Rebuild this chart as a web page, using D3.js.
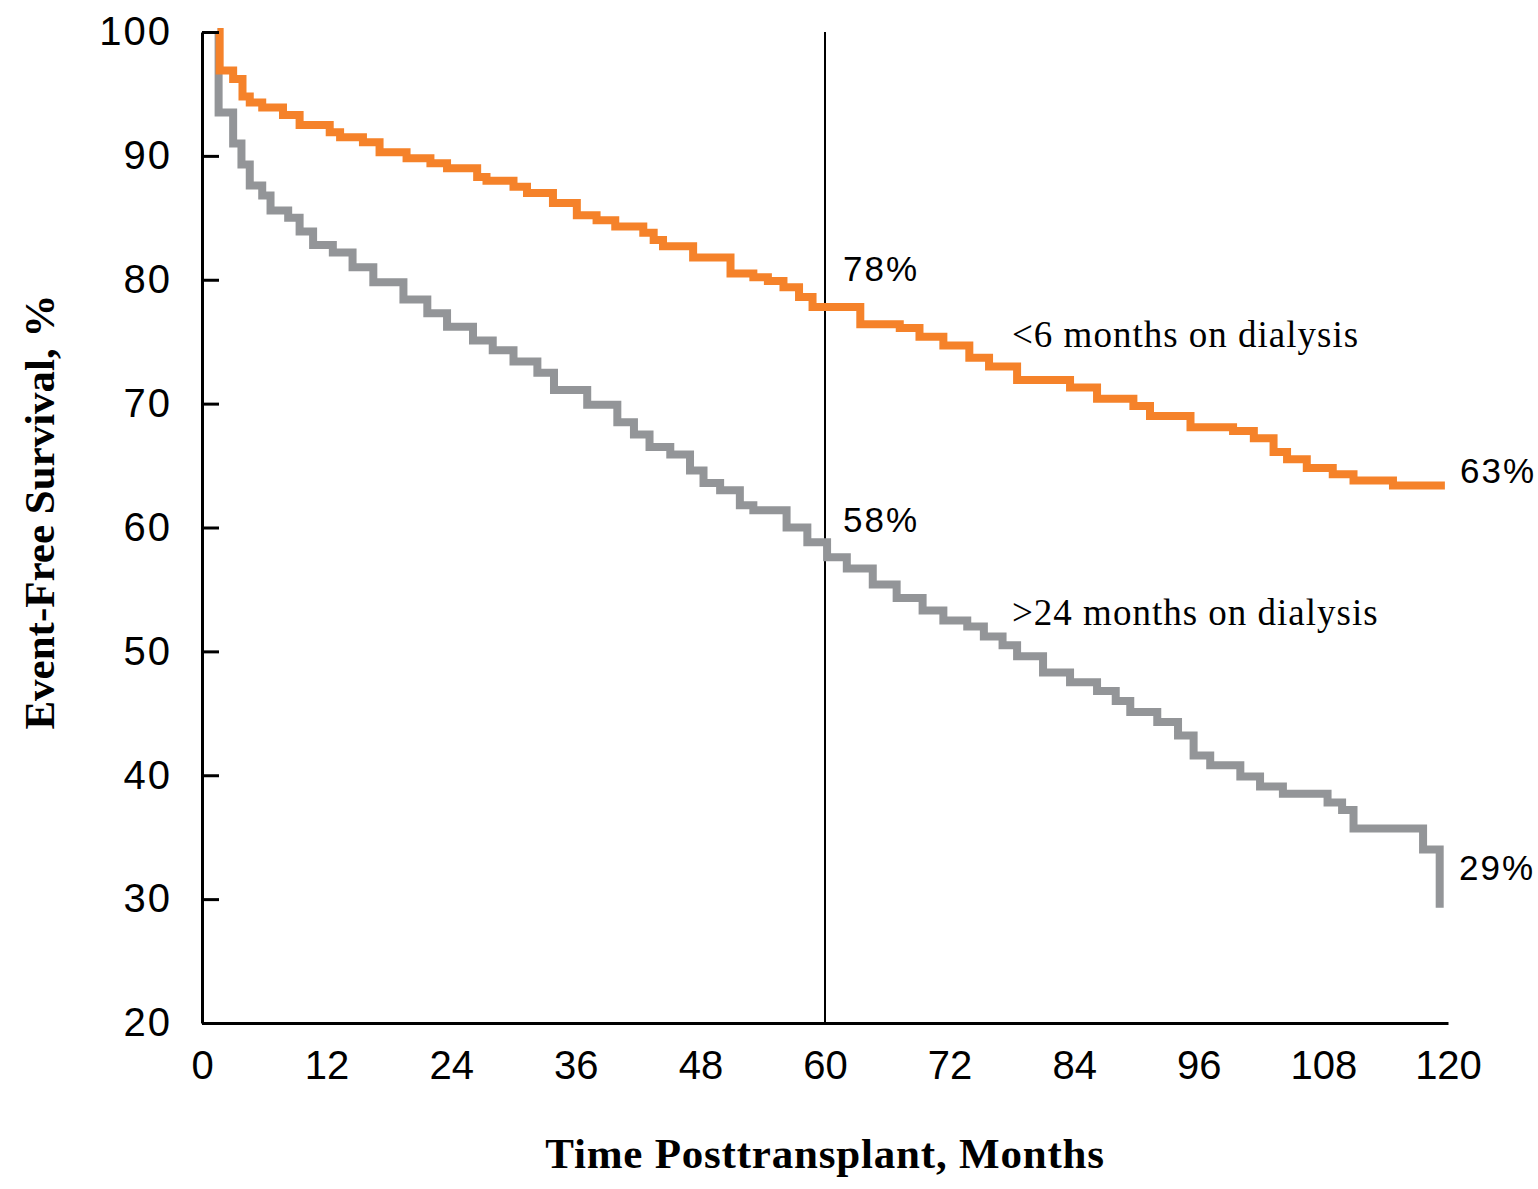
<!DOCTYPE html>
<html>
<head>
<meta charset="utf-8">
<script src="https://cdn.jsdelivr.net/npm/d3@7"></script>
<style>
    body { margin: 0; background: #fff; }
    svg.main { display: block; }
    .tick text { font-family: "Liberation Sans", Arial, sans-serif; font-size: 40px; fill: #000; }
    .title { font-family: "Liberation Serif", "Times New Roman", serif; font-weight: bold; font-size: 43px; fill: #000; }
    .note { font-family: "Liberation Serif", "Times New Roman", serif; font-size: 37px; fill: #000; }
    .pct { font-family: "Liberation Sans", Arial, sans-serif; font-size: 35px; fill: #000; }
</style>
</head>
<body>
<script>
// months posttransplant where the step starts, and event-free survival (%)
var shortTimes = [1.5, 1.7, 3.0, 3.9, 4.6, 5.8, 7.8, 9.4, 12.3, 13.3, 15.5, 17.1, 19.7, 22.0, 23.6,
    26.5, 27.4, 30.0, 31.3, 33.8, 36.1, 38.0, 39.8, 42.5, 43.5, 44.4, 47.3, 50.9, 53.1, 54.5,
    56.0, 57.5, 58.8, 63.4, 67.2, 69.1, 71.4, 73.9, 75.8, 78.5, 83.6, 86.2, 89.7, 91.3, 95.2,
    99.3, 101.3, 103.2, 104.5, 106.4, 108.9, 110.9, 114.7, 119.7];
var shortSurv = [100, 96.9, 96.2, 94.8, 94.3, 93.9, 93.3, 92.5, 91.9, 91.5, 91.1, 90.3, 89.8, 89.4, 89.0,
    88.3, 88.0, 87.5, 87.0, 86.2, 85.2, 84.8, 84.3, 83.8, 83.2, 82.7, 81.8, 80.5, 80.2, 79.9,
    79.4, 78.6, 77.8, 76.4, 76.1, 75.4, 74.7, 73.7, 73.0, 71.9, 71.3, 70.4, 69.8, 69.0, 68.1,
    67.8, 67.2, 66.1, 65.5, 64.8, 64.3, 63.8, 63.4, 63.4];

var longTimes = [1.5, 1.6, 3.0, 3.8, 4.6, 5.8, 6.6, 8.3, 9.4, 10.7, 12.6, 14.5, 16.5, 19.4, 21.7,
    23.6, 26.1, 28.0, 30.0, 32.3, 33.9, 37.1, 40.0, 41.6, 43.1, 45.1, 47.0, 48.3, 49.9, 51.8,
    53.1, 56.3, 58.3, 60.2, 62.1, 64.6, 66.9, 69.4, 71.4, 73.7, 75.3, 77.1, 78.5, 81.0, 83.6,
    86.2, 88.0, 89.4, 92.0, 94.0, 95.5, 97.1, 100.0, 101.9, 104.1, 108.4, 109.8, 110.9, 117.6, 119.2];
var longSurv = [100, 93.5, 91.0, 89.3, 87.6, 86.8, 85.6, 85.0, 83.9, 82.8, 82.2, 81.0, 79.8, 78.4, 77.3,
    76.2, 75.1, 74.3, 73.4, 72.5, 71.1, 69.9, 68.5, 67.5, 66.5, 65.9, 64.6, 63.6, 63.0, 61.8,
    61.4, 60.0, 58.8, 57.6, 56.7, 55.4, 54.3, 53.3, 52.5, 52.0, 51.2, 50.5, 49.6, 48.3, 47.5,
    46.8, 46.0, 45.1, 44.3, 43.2, 41.6, 40.8, 39.9, 39.1, 38.5, 37.8, 37.2, 35.7, 34.0, 29.3];

var xTicks = [0, 12, 24, 36, 48, 60, 72, 84, 96, 108, 120];
var yTicks = [20, 30, 40, 50, 60, 70, 80, 90, 100];
var markTime = 60;

var seriesNames = ["<6 months on dialysis", ">24 months on dialysis"];
var markLabels = ["78%", "58%"];
var endLabels = ["63%", "29%"];

var w = 1538, h = 1189;

var svg = d3.select("body").append("svg")
    .attr("class", "main")
    .attr("width", w)
    .attr("height", h);

var x = d3.scaleLinear().domain([0, 120]).range([202, 1448]);
var y = d3.scaleLinear().domain([20, 100]).range([1023, 32]);

function pts(ts, vs) {
    return ts.map(function (t, i) { return [t, vs[i]]; });
}

var line = d3.line()
    .x(function (d) { return x(d[0]); })
    .y(function (d) { return y(d[1]); })
    .curve(d3.curveStepAfter);

// 60-month reference line
svg.append("line")
    .attr("x1", x(markTime)).attr("x2", x(markTime))
    .attr("y1", y(100)).attr("y2", y(20))
    .attr("stroke", "#000")
    .attr("stroke-width", 2);

// gray underneath, orange on top
svg.append("path")
    .datum(pts(longTimes, longSurv))
    .attr("d", line)
    .attr("fill", "none")
    .attr("stroke", "#939598")
    .attr("stroke-width", 8);

svg.append("path")
    .datum(pts(shortTimes, shortSurv))
    .attr("d", line)
    .attr("fill", "none")
    .attr("stroke", "#F5822A")
    .attr("stroke-width", 8);

// axes
var yAxis = svg.append("g")
    .attr("transform", "translate(" + x(0) + ",0)")
    .call(d3.axisLeft(y).tickValues(yTicks).tickSizeInner(-17).tickSizeOuter(0).tickPadding(32));

var xAxis = svg.append("g")
    .attr("transform", "translate(0," + y(20) + ")")
    .call(d3.axisBottom(x).tickValues(xTicks).tickSize(0).tickPadding(28));

[yAxis, xAxis].forEach(function (g) {
    g.select(".domain").attr("stroke", "#000").attr("stroke-width", 3);
    g.selectAll(".tick line").attr("stroke", "#000").attr("stroke-width", 3);
    g.attr("font-family", null).attr("font-size", null);
});
yAxis.selectAll(".tick text").attr("letter-spacing", 2).attr("dx", 2);

// axis titles
svg.append("text")
    .attr("class", "title")
    .attr("x", 825)
    .attr("y", 1168)
    .attr("text-anchor", "middle")
    .attr("letter-spacing", 0.8)
    .text("Time Posttransplant, Months");

svg.append("text")
    .attr("class", "title")
    .attr("transform", "translate(54,512) rotate(-90)")
    .attr("text-anchor", "middle")
    .text("Event-Free Survival, %");

// percentages at 60 months and at the end
svg.append("text").attr("class", "pct").attr("x", 843).attr("y", 281).attr("letter-spacing", 2).text(markLabels[0]);
svg.append("text").attr("class", "pct").attr("x", 843).attr("y", 532).attr("letter-spacing", 2).text(markLabels[1]);
svg.append("text").attr("class", "pct").attr("x", 1460).attr("y", 483).attr("letter-spacing", 2).text(endLabels[0]);
svg.append("text").attr("class", "pct").attr("x", 1459).attr("y", 880).attr("letter-spacing", 2).text(endLabels[1]);

// series names
svg.append("text").attr("class", "note").attr("x", 1012).attr("y", 347).attr("letter-spacing", 1).text(seriesNames[0]);
svg.append("text").attr("class", "note").attr("x", 1012).attr("y", 625).attr("letter-spacing", 1).text(seriesNames[1]);
</script>
</body>
</html>
